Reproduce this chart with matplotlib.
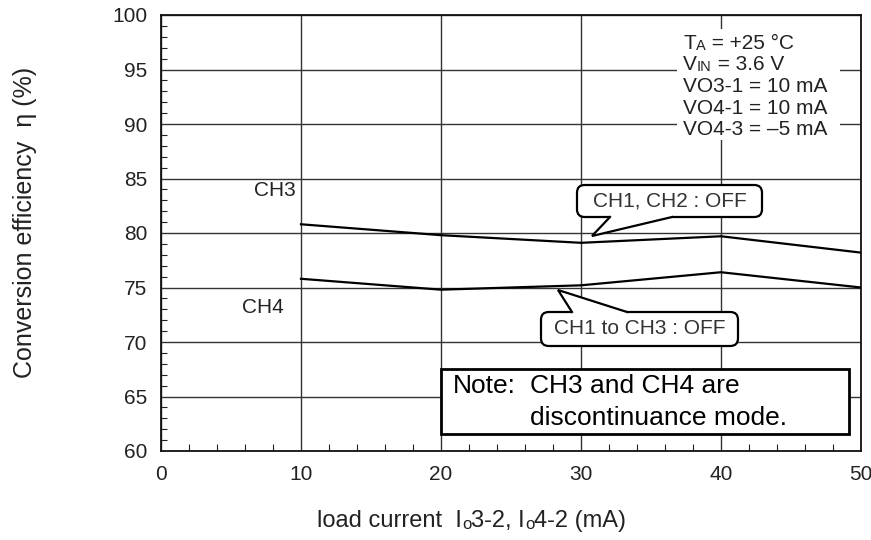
import matplotlib
matplotlib.use('Agg')
import matplotlib.pyplot as plt
from matplotlib.patches import FancyBboxPatch, Rectangle, Polygon
from matplotlib.ticker import MultipleLocator

plt.rcParams['font.family'] = ['Liberation Sans', 'DejaVu Sans']

# data
load_ma = [10, 20, 30, 40, 50]
eff_ch3 = [80.8, 79.8, 79.1, 79.7, 78.2]
eff_ch4 = [75.8, 74.8, 75.2, 76.4, 75.0]

x_ticks = [0, 10, 20, 30, 40, 50]
y_ticks = [60, 65, 70, 75, 80, 85, 90, 95, 100]

TXT = '#222222'
FS = 15

fig = plt.figure(figsize=(8.71, 5.40), dpi=100)
ax = fig.add_axes([161 / 871, 1 - 451 / 540, 700 / 871, 436 / 540])
ax.set_xlim(0, 50)
ax.set_ylim(60, 100)
ax.set_xticks(x_ticks)
ax.set_yticks(y_ticks)
ax.xaxis.set_minor_locator(MultipleLocator(2))
ax.yaxis.set_minor_locator(MultipleLocator(1))
ax.tick_params(which='major', length=0, labelsize=FS, labelcolor=TXT, pad=10)
ax.tick_params(which='minor', direction='in', length=4.5, width=0.8, color='#222222')
ax.tick_params(axis='x', which='minor', length=5)
ax.grid(True, which='major', color='#333333', lw=1.0)
ax.set_axisbelow(True)
for sp in ax.spines.values():
    sp.set_linewidth(1.3)
    sp.set_color('#111111')

ax.plot(load_ma, eff_ch3, color='black', lw=1.6, zorder=3)
ax.plot(load_ma, eff_ch4, color='black', lw=1.6, zorder=3)

# pixel -> data helpers (only for placing annotations)
def dx(px):
    return (px - 161) / 14.0

def dy(py):
    return 100 - (py - 15) / 10.9


def chain(first, parts):
    # append text pieces after an existing text, sharing its bottom line
    prev = first
    for s, fs in parts:
        prev = ax.annotate(s, xy=(1, 0), xycoords=prev, va='bottom', ha='left',
                           fontsize=fs, color=TXT, zorder=9, annotation_clip=False)
    return prev


def rich(x, y, parts):
    s, fs = parts[0]
    t = ax.text(x, y, s, fontsize=fs, va='baseline', color=TXT, zorder=9)
    return chain(t, parts[1:])


# condition block (white background hides grid)
ax.add_patch(Rectangle((dx(677), dy(140)), dx(840) - dx(677), dy(29) - dy(140),
                       fc='white', ec='none', zorder=2))
small = 10.5
rich(dx(683), dy(49), [('T', FS), ('A', small), (' = +25 \u00b0C', FS)])
rich(dx(683), dy(70), [('V', FS), ('IN', small), (' = 3.6 V', FS)])
rich(dx(683), dy(92), [('VO3-1 = 10 mA', FS)])
rich(dx(683), dy(114), [('VO4-1 = 10 mA', FS)])
rich(dx(683), dy(135), [('VO4-3 = \u20135 mA', FS)])

ax.text(dx(296), dy(196), 'CH3', fontsize=FS, ha='right', va='baseline', color=TXT)
ax.text(dx(284), dy(313), 'CH4', fontsize=FS, ha='right', va='baseline', color=TXT)

aspect = 14.0 / 10.9


def callout(x0, y0, x1, y1, tip, bx0, bx1, label):
    box = FancyBboxPatch((x0, y0), x1 - x0, y1 - y0,
                         boxstyle='round,pad=0,rounding_size=0.55',
                         mutation_aspect=aspect,
                         fc='white', ec='black', lw=1.6, zorder=5)
    ax.add_patch(box)
    # pointer base sits on the edge nearest the tip
    by = y0 if tip[1] < y0 else y1
    inside = 0.25 if tip[1] < y0 else -0.25
    ax.add_patch(Polygon([(bx0, by + inside), (bx0, by), tip, (bx1, by), (bx1, by + inside)],
                         closed=True, fc='white', ec='none', zorder=6))
    ax.plot([bx0, tip[0], bx1], [by, tip[1], by], color='black', lw=1.6,
            zorder=7, solid_joinstyle='miter')
    ax.text((x0 + x1) / 2, (y0 + y1) / 2, label, fontsize=FS, ha='center',
            va='center', color='#333333', zorder=8)


callout(dx(577), dy(217), dx(762), dy(185), (dx(592), dy(236)), dx(610), dx(672),
        'CH1, CH2 : OFF')
callout(dx(541), dy(346), dx(738), dy(312), (dx(558), dy(290)), dx(572), dx(627),
        'CH1 to CH3 : OFF')

# note box
ax.add_patch(Rectangle((dx(441), dy(434)), dx(849) - dx(441), dy(369) - dy(434),
                       fc='white', ec='black', lw=2.0, zorder=5))
ax.text(dx(453), dy(393), 'Note:', fontsize=19, va='baseline', color='black', zorder=8)
ax.text(dx(530), dy(393), 'CH3 and CH4 are', fontsize=19, va='baseline', color='black', zorder=8)
ax.text(dx(530), dy(425), 'discontinuance mode.', fontsize=19, va='baseline', color='black', zorder=8)

# axis labels
fig.text(25 / 871, 1 - 222 / 540, 'Conversion efficiency  \u03b7 (%)', rotation=90,
         ha='center', va='center', fontsize=18, color=TXT)

xl = fig.text(317 / 871, 1 - 527 / 540, 'load current  I', fontsize=17,
              va='baseline', color=TXT)
chain(xl, [('o', 12), ('3-2, I', 17), ('o', 12), ('4-2 (mA)', 17)])

fig.savefig('out.png', dpi=100)
